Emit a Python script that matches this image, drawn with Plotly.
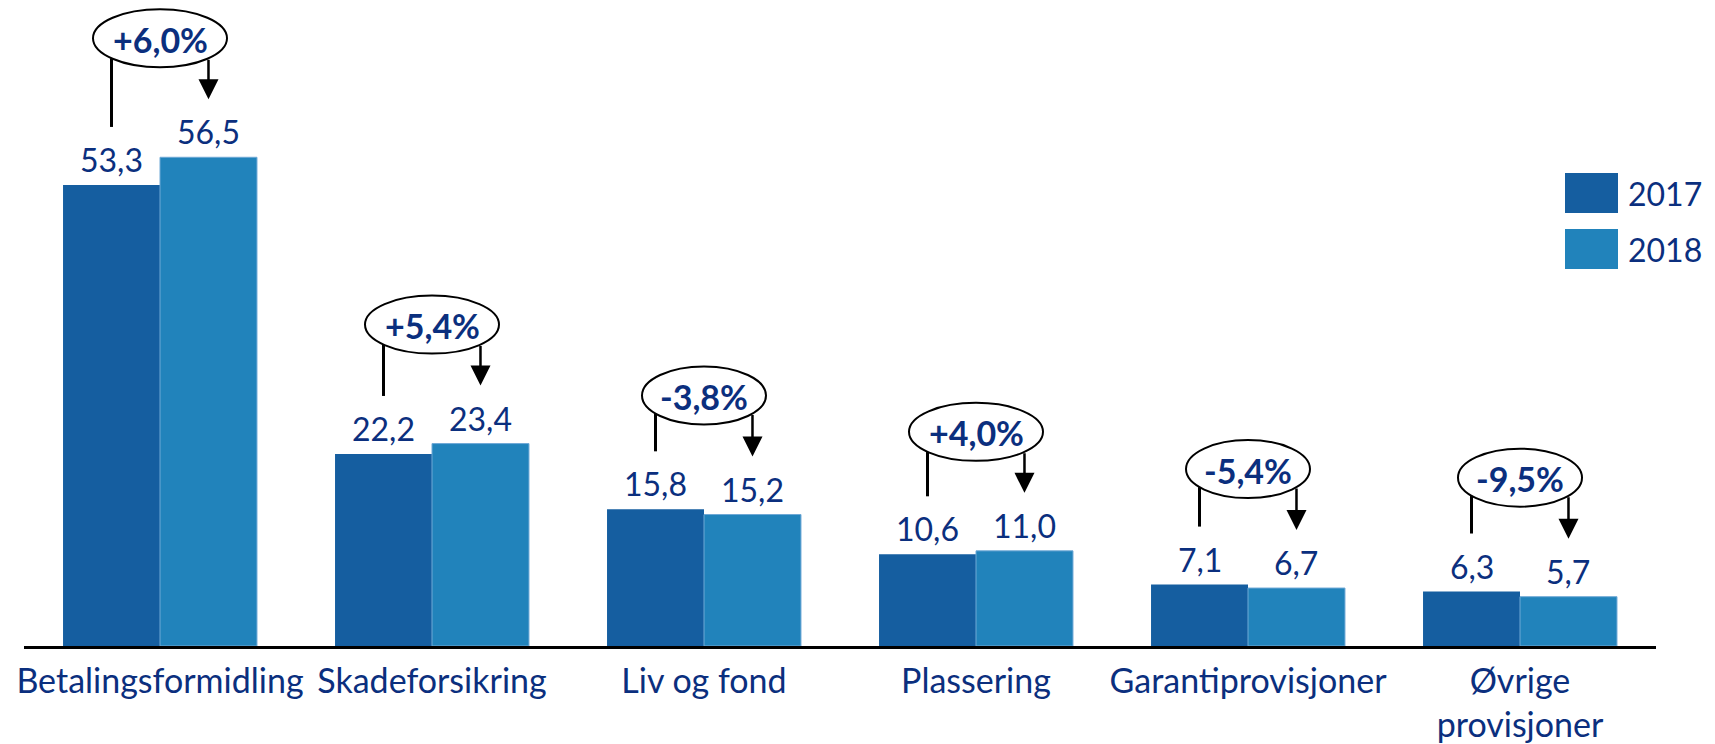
import math
import plotly.graph_objects as go

# ---------------- data ----------------
categories = ["Betalingsformidling", "Skadeforsikring", "Liv og fond",
              "Plassering", "Garantiprovisjoner", "Øvrige<br>provisjoner"]
series_names = ["2017", "2018"]
values_2017 = [53.3, 22.2, 15.8, 10.6, 7.1, 6.3]
values_2018 = [56.5, 23.4, 15.2, 11.0, 6.7, 5.7]
value_labels_2017 = ["53,3", "22,2", "15,8", "10,6", "7,1", "6,3"]
value_labels_2018 = ["56,5", "23,4", "15,2", "11,0", "6,7", "5,7"]
change_labels = ["+6,0%", "+5,4%", "-3,8%", "+4,0%", "-5,4%", "-9,5%"]

# ---------------- style ----------------
OFF = 8                                  # page body margin of the html page
W, H = 1715 - 2 * OFF, 744 - OFF
M_L, M_T, M_B = 24 - OFF, 0, 98
M_R = W - (1656 - OFF)
PLOT_W = W - M_L - M_R
PLOT_H = H - M_T - M_B
PX_PER_UNIT = 8.65                      # vertical pixels per value unit
Y_MAX = PLOT_H / PX_PER_UNIT
N = len(categories)
PX_PER_CAT = PLOT_W / N
BARGAP = 0.287
BAR_OFF = (1 - BARGAP) / 4              # centre offset of each bar in category units

C2017 = "#155EA0"
C2018 = "#2183BB"
TXT = "#0B2F7E"
FONT = "Lato"
FS_VAL = 32
FS_CAT = 34
FS_PCT = 34

fig = go.Figure()
fig.add_bar(x=list(range(N)), y=values_2017, name=series_names[0],
            marker=dict(color=C2017, line=dict(width=0)))
fig.add_bar(x=list(range(N)), y=values_2018, name=series_names[1],
            marker=dict(color=C2018, line=dict(width=1, color="#6FA9D6")))

def px2y(p):
    return p / PX_PER_UNIT

def px2x(p):
    return p / PX_PER_CAT

annotations = []
shapes = []
for i in range(N):
    x17 = i - BAR_OFF
    x18 = i + BAR_OFF
    # value labels
    for xv, v, lab in ((x17, values_2017[i], value_labels_2017[i]),
                       (x18, values_2018[i], value_labels_2018[i])):
        annotations.append(dict(x=xv, y=v, xref="x", yref="y", text=lab,
                                showarrow=False, yanchor="bottom", yshift=4,
                                font=dict(family=FONT, size=FS_VAL, color=TXT)))
    # ellipse with change
    a_px = 67 if change_labels[i].startswith("+") else 62
    b_px = 29
    yc = values_2018[i] + px2y(119)
    a = px2x(a_px)
    b = px2y(b_px)
    shapes.append(dict(type="circle", xref="x", yref="y",
                       x0=i - a, x1=i + a, y0=yc - b, y1=yc + b,
                       line=dict(color="black", width=2), fillcolor="white",
                       layer="above"))
    annotations.append(dict(x=i, y=yc, xref="x", yref="y", text="<b>%s</b>" % change_labels[i],
                            showarrow=False, yanchor="middle", yshift=-1,
                            font=dict(family=FONT, size=FS_PCT, color=TXT)))
    dx_px = 48.5
    edge = yc - b * math.sqrt(1 - (dx_px / a_px) ** 2)
    # left connector
    shapes.append(dict(type="line", xref="x", yref="y",
                       x0=x17, x1=x17, y0=edge, y1=values_2017[i] + px2y(58),
                       line=dict(color="black", width=3)))
    # right arrow
    annotations.append(dict(x=x18, y=values_2018[i] + px2y(58), xref="x", yref="y",
                            ax=x18, ay=edge, axref="x", ayref="y", text="",
                            showarrow=True, arrowhead=2, arrowsize=1.6,
                            arrowwidth=2.5, arrowcolor="black", standoff=0))

# manual legend (page pixel positions)
def paper_x(p):
    return (p - OFF - M_L) / PLOT_W

def paper_y(p):
    return (H - M_B - (p - OFF)) / PLOT_H

for k, (name, col) in enumerate(zip(series_names, [C2017, C2018])):
    top = 173 + k * 56
    shapes.append(dict(type="rect", xref="paper", yref="paper",
                       x0=paper_x(1565), x1=paper_x(1618),
                       y0=paper_y(top + 40), y1=paper_y(top),
                       line=dict(width=0), fillcolor=col))
    annotations.append(dict(x=paper_x(1626), y=paper_y(top + 20), xref="paper", yref="paper",
                            text=name, showarrow=False, xanchor="left", yanchor="middle",
                            font=dict(family=FONT, size=FS_VAL, color=TXT)))

fig.update_layout(
    width=W, height=H,
    margin=dict(l=M_L, r=M_R, t=M_T, b=M_B),
    barmode="group", bargap=BARGAP, bargroupgap=0,
    plot_bgcolor="white", paper_bgcolor="white",
    showlegend=False,
    shapes=shapes, annotations=annotations,
    xaxis=dict(tickmode="array", tickvals=list(range(N)), ticktext=categories,
               range=[-0.5, N - 0.5], showline=True, linecolor="black", linewidth=3,
               ticks="", showgrid=False, zeroline=False, tickangle=0,
               ticklabelstandoff=3,
               tickfont=dict(family=FONT, size=FS_CAT, color=TXT)),
    yaxis=dict(range=[0, Y_MAX], visible=False, showgrid=False, zeroline=False),
)

fig.write_html("out.html")
